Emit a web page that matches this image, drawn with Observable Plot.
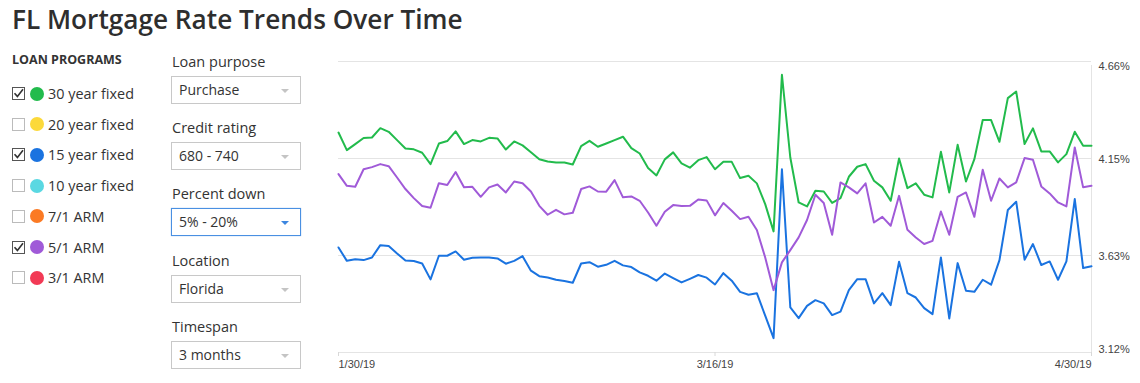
<!DOCTYPE html>
<html>
<head>
<meta charset="utf-8">
<script src="https://cdn.jsdelivr.net/npm/d3@7"></script>
<script src="https://cdn.jsdelivr.net/npm/@observablehq/plot@0.6"></script>
<style>
  html, body { margin: 0; padding: 0; background: #fff; }
  body { width: 1140px; height: 383px; position: relative; overflow: hidden; font-family: "Open Sans", "Noto Sans", sans-serif; color: #333; }
  .title { position: absolute; left: 12px; top: 1px; font-size: 26.2px; font-weight: 600; color: #2e2e2e; letter-spacing: 0; white-space: nowrap; }
  .lp { position: absolute; left: 12px; top: 51px; font-size: 12.5px; font-weight: 700; color: #333; white-space: nowrap; }
  .row { position: absolute; left: 12px; height: 16px; display: flex; align-items: center; white-space: nowrap; font-size: 14.4px; color: #333; }
  .cb { width: 11px; height: 11px; border: 1.5px solid #bbb; box-sizing: content-box; position: relative; background: #fff; }
  .cb.on { border-color: #555; }
  .cb svg { position: absolute; left: 0; top: 0; }
  .dot { width: 14px; height: 14px; border-radius: 50%; margin-left: 5px; margin-right: 4px; }
  .flabel { position: absolute; left: 172px; font-size: 14.5px; color: #333; white-space: nowrap; }
  .sel { position: absolute; left: 171px; width: 128px; height: 26px; border: 1px solid #c8c8c8; background: #fff; }
  .sel.active { border-color: #4a90e2; box-shadow: 0 0 1px #8ab8ee; }
  .sel span { position: absolute; left: 7px; top: 3px; font-size: 14px; color: #333; white-space: nowrap; }
  .sel i { position: absolute; right: 11px; top: 12px; width: 0; height: 0; border-left: 4px solid transparent; border-right: 4px solid transparent; border-top: 4px solid #c4c4c4; }
  .sel.active i { border-top-color: #3d86e0; }
  #chart { position: absolute; left: 330px; top: 50px; }
</style>
</head>
<body>
<div class="title">FL Mortgage Rate Trends Over Time</div>
<div class="lp">LOAN PROGRAMS</div>
<div id="programs"></div>
<div id="filters"></div>
<div id="chart"></div>
<script>
// ---- data ----
const programNames = ["30 year fixed", "20 year fixed", "15 year fixed", "10 year fixed", "7/1 ARM", "5/1 ARM", "3/1 ARM"];
const programColors = ["#22bb4c", "#fcd93a", "#1a73e0", "#5ad8e2", "#fb7a24", "#a05ad8", "#f23a55"];
const programChecked = [true, false, true, false, false, true, false];

const filterLabels = ["Loan purpose", "Credit rating", "Percent down", "Location", "Timespan"];
const filterValues = ["Purchase", "680 - 740", "5% - 20%", "Florida", "3 months"];
const activeFilter = "Percent down";

const startDate = "2019-01-30";
const xTickDates = ["2019-01-30", "2019-03-16", "2019-04-30"];
const xTickLabels = ["1/30/19", "3/16/19", "4/30/19"];
const yTicks = [3.12, 3.6333, 4.1467, 4.66];
const yTickLabels = ["3.12%", "3.63%", "4.15%", "4.66%"];

const fixed30 = [4.284,4.191,4.223,4.255,4.258,4.307,4.288,4.244,4.200,4.195,4.177,4.117,4.226,4.239,4.290,4.223,
  4.244,4.237,4.256,4.253,4.194,4.237,4.216,4.180,4.143,4.131,4.126,4.126,4.115,4.212,4.240,
  4.209,4.226,4.244,4.262,4.202,4.173,4.096,4.057,4.142,4.179,4.121,4.098,4.138,4.154,4.090,
  4.129,4.129,4.043,4.055,4.015,3.905,3.761,4.590,4.152,3.914,3.893,3.976,3.972,3.912,3.937,
  4.050,4.103,4.117,4.029,3.994,3.923,4.147,3.990,4.015,3.955,3.941,4.182,3.967,4.219,4.025,
  4.143,4.350,4.350,4.235,4.466,4.501,4.223,4.306,4.184,4.184,4.126,4.170,4.288,4.214,4.214];
const arm51 = [4.064,4.002,3.997,4.090,4.101,4.117,4.106,4.046,3.985,3.937,3.895,3.886,4.016,4.006,4.075,3.994,
  3.997,3.944,3.994,4.009,3.967,4.025,4.016,3.972,3.896,3.849,3.875,3.851,3.859,3.985,3.999,
  3.972,3.971,4.032,3.941,3.946,3.923,3.861,3.791,3.865,3.900,3.895,3.896,3.930,3.925,3.846,
  3.911,3.870,3.826,3.838,3.768,3.623,3.450,3.597,3.662,3.729,3.821,3.955,3.911,3.743,4.020,
  3.994,3.962,4.015,3.808,3.838,3.791,3.949,3.769,3.729,3.694,3.711,3.866,3.743,3.944,3.967,
  3.838,4.087,3.923,4.041,3.994,4.020,4.149,4.140,3.999,3.962,3.914,3.893,4.205,3.994,4.002];
const fixed15 = [3.676,3.605,3.614,3.609,3.623,3.688,3.683,3.644,3.607,3.604,3.591,3.507,3.632,3.632,3.655,3.611,
  3.621,3.623,3.623,3.618,3.590,3.605,3.630,3.553,3.524,3.517,3.505,3.498,3.489,3.591,3.598,
  3.574,3.584,3.605,3.581,3.572,3.544,3.526,3.500,3.538,3.514,3.491,3.510,3.530,3.516,3.480,
  3.540,3.500,3.441,3.426,3.434,3.315,3.196,4.090,3.359,3.302,3.367,3.397,3.380,3.318,3.336,
  3.450,3.508,3.508,3.380,3.434,3.371,3.600,3.434,3.411,3.355,3.323,3.623,3.300,3.593,3.447,
  3.441,3.505,3.479,3.609,3.874,3.918,3.611,3.694,3.583,3.602,3.505,3.602,3.932,3.567,3.576];

// ---- sidebar (UI controls) ----
const prog = document.getElementById("programs");
programNames.forEach((name, i) => {
  const row = document.createElement("div");
  row.className = "row";
  row.style.top = (85.5 + i * 30.7) + "px";
  const cb = document.createElement("div");
  cb.className = "cb" + (programChecked[i] ? " on" : "");
  if (programChecked[i]) {
    cb.innerHTML = '<svg width="11" height="11" viewBox="0 0 11 11"><path d="M1.5 5.2 L4.4 8.4 L10 1.2" fill="none" stroke="#333" stroke-width="1.6"/></svg>';
  }
  const dot = document.createElement("div");
  dot.className = "dot";
  dot.style.background = programColors[i];
  const lab = document.createElement("span");
  lab.textContent = name;
  row.appendChild(cb); row.appendChild(dot); row.appendChild(lab);
  prog.appendChild(row);
});

const filt = document.getElementById("filters");
filterLabels.forEach((lbl, i) => {
  const top = 51.5 + i * 66.4;
  const l = document.createElement("div");
  l.className = "flabel";
  l.style.top = top + "px";
  l.textContent = lbl;
  const s = document.createElement("div");
  s.className = "sel" + (lbl === activeFilter ? " active" : "");
  s.style.top = (top + 24) + "px";
  s.innerHTML = "<span></span><i></i>";
  s.querySelector("span").textContent = filterValues[i];
  filt.appendChild(l); filt.appendChild(s);
});

// ---- chart ----
const start = new Date(startDate);
const series = [
  {name: "30 year fixed", values: fixed30, color: programColors[0]},
  {name: "15 year fixed", values: fixed15, color: programColors[2]},
  {name: "5/1 ARM", values: arm51, color: programColors[5]}
];
const rows = series.flatMap(s => s.values.map((v, i) => ({series: s.name, date: d3.utcDay.offset(start, i), rate: v})));
const xTicks = xTickDates.map(d => new Date(d));
const endDate = xTicks[xTicks.length - 1];
const fmtX = d => xTickLabels[xTicks.findIndex(t => +t === +d)];
const fmtY = d => yTickLabels[yTicks.indexOf(d)];
const anchors = ["start", "middle", "end"];
const yDy = [-3, 1, 1, 5];

const chart = Plot.plot({
  width: 810,
  height: 333,
  marginLeft: 8,
  marginRight: 49,
  marginTop: 11,
  marginBottom: 31,
  style: {fontFamily: "'Liberation Sans', Arial, sans-serif", fontSize: "11px", color: "#444", background: "transparent"},
  x: {type: "utc", domain: [start, endDate], label: null},
  y: {domain: [yTicks[0], yTicks[yTicks.length - 1]], label: null},
  color: {domain: series.map(s => s.name), range: series.map(s => s.color)},
  marks: [
    Plot.ruleY(yTicks, {stroke: "#e4e4e4", strokeWidth: 1}),
    Plot.ruleX([endDate], {stroke: "#e4e4e4", strokeWidth: 1, y1: yTicks[0], y2: yTicks[yTicks.length - 1], insetBottom: -4}),
    ...xTicks.map((t, i) => Plot.axisX([t], {label: null, tickFormat: fmtX, tickSize: 4, tickPadding: 4, stroke: "#d8d8d8", textAnchor: anchors[i], fill: "#444", fontSize: 11})),
    ...yTicks.map((t, i) => Plot.axisY([t], {anchor: "right", label: null, tickFormat: fmtY, tickSize: 0, tickPadding: 7, dy: yDy[i], fill: "#444", fontSize: 11})),
    Plot.line(rows, {x: "date", y: "rate", z: "series", stroke: "series", strokeWidth: 2, curve: "linear"})
  ]
});
document.getElementById("chart").appendChild(chart);
</script>
</body>
</html>
